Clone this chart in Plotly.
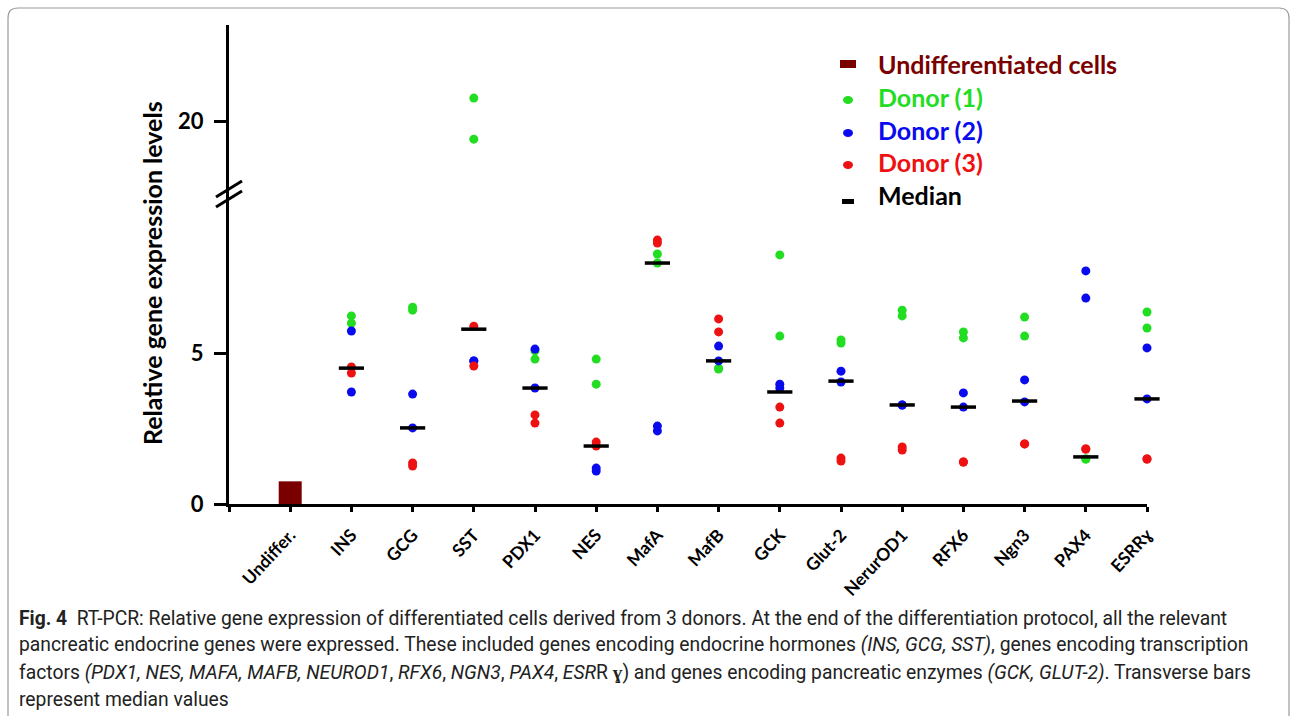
import plotly.graph_objects as go

# ---- data -------------------------------------------------------------
categories = ["Undiffer.", "INS", "GCG", "SST", "PDX1", "NES", "MafA", "MafB",
              "GCK", "Glut-2", "NerurOD1", "RFX6", "Ngn3", "PAX4", "ESRRɣ"]
genes = categories[1:]

undiff_value = 0.37

donor1 = [[6.23, 5.99], [6.52, 6.42], [20.76, 19.40], [5.07, 4.80], [4.80, 3.97],
          [8.28, 7.98], [4.50, 4.47], [8.25, 5.56], [5.43, 5.33], [6.42, 6.23],
          [5.70, 5.50], [6.19, 5.56], [1.49, 1.49], [6.36, 5.83]]
donor2 = [[5.73, 3.71], [3.64, 2.52], [4.74, 4.74], [5.13, 3.84], [1.19, 1.09],
          [2.58, 2.42], [5.23, 4.74], [3.97, 3.84], [4.40, 4.04], [3.28, 3.28],
          [3.68, 3.21], [4.11, 3.38], [7.72, 6.82], [5.17, 3.48]]
donor3 = [[4.54, 4.34], [1.36, 1.26], [5.89, 4.57], [2.95, 2.68], [2.05, 1.92],
          [8.74, 8.64], [6.13, 5.70], [3.21, 2.68], [1.52, 1.42], [1.89, 1.79],
          [1.39, 1.39], [1.99, 1.99], [1.82, 1.82], [1.49, 1.49]]
medians = [4.50, 2.52, 5.79, 3.84, 1.92, 7.98, 4.74, 3.71, 4.07, 3.28,
           3.21, 3.41, 1.56, 3.48]

# ---- styling ----------------------------------------------------------
GREEN = "#22dd22"
BLUE = "#0a0aee"
RED = "#ee1111"
DARKRED = "#7a0000"
FONT = "Lato"

W, H = 1292, 716
ML, MR, MT, MB = 229, 145, 25, 212
PW, PH = W - ML - MR, H - MT - MB
BREAK_PX = 193          # pixel row where the axis is broken
LOW_TOP = 10.30         # top of the lower axis segment
UP_RANGE = [17.616, 23.18]
BREAK_AT = 15           # values above this are drawn on the upper segment
split = (H - MB - BREAK_PX) / PH


def px_x(x):
    return (x - ML) / PW


def px_y(y):
    return (H - MB - y) / PH


fig = go.Figure()

# undifferentiated cells
fig.add_trace(go.Scatter(
    x=[0], y=[undiff_value], mode="markers", cliponaxis=False,
    marker=dict(symbol="square", size=23, color=DARKRED),
    showlegend=False))

# donor points, split between the two axis segments
for vals, col in ((donor1, GREEN), (donor2, BLUE), (donor3, RED)):
    lx, ly, ux, uy = [], [], [], []
    for i, pair in enumerate(vals):
        for v in pair:
            if v > BREAK_AT:
                ux.append(i + 1)
                uy.append(v)
            else:
                lx.append(i + 1)
                ly.append(v)
    mk = dict(symbol="circle", size=9, color=col)
    fig.add_trace(go.Scatter(x=lx, y=ly, mode="markers", marker=mk,
                             cliponaxis=False, showlegend=False))
    if ux:
        fig.add_trace(go.Scatter(x=ux, y=uy, mode="markers", marker=mk,
                                 cliponaxis=False, showlegend=False,
                                 yaxis="y2"))

# medians
fig.add_trace(go.Scatter(
    x=list(range(1, len(genes) + 1)), y=medians, mode="markers",
    cliponaxis=False,
    marker=dict(symbol="line-ew", size=18, line=dict(width=3.5, color="black")),
    showlegend=False))

axis_common = dict(showline=True, linewidth=3, linecolor="black",
                   showgrid=False, zeroline=False, ticks="outside",
                   tickcolor="black", tickwidth=3, ticklen=12,
                   tickfont=dict(family=FONT, size=22, color="black",
                                 weight="bold"),
                   ticklabelstandoff=6)

fig.update_layout(
    width=W, height=H,
    margin=dict(l=ML, r=MR, t=MT, b=MB),
    paper_bgcolor="white", plot_bgcolor="white",
    showlegend=False,
    xaxis=dict(range=[-1, len(categories) - 1], domain=[0, 1],
               tickvals=list(range(-1, len(categories))),
               ticktext=[""] + categories,
               tickangle=-47, showline=True, linewidth=3, linecolor="black",
               showgrid=False, zeroline=False, ticks="outside",
               tickcolor="black", tickwidth=3, ticklen=5,
               tickfont=dict(family=FONT, size=17.5, color="black",
                             weight="bold"),
               ticklabelstandoff=6,
               anchor="y"),
    yaxis=dict(domain=[0, split], range=[0, LOW_TOP], tickvals=[0, 5],
               anchor="x", **axis_common),
    yaxis2=dict(domain=[split, 1], range=UP_RANGE, tickvals=[20],
                anchor="x", **axis_common),
)

shapes = []
annotations = []

# axis break marks
for cy in (BREAK_PX - 4, BREAK_PX + 6):
    shapes.append(dict(type="line", xref="paper", yref="paper",
                       x0=px_x(ML - 13), y0=px_y(cy + 8),
                       x1=px_x(ML + 13), y1=px_y(cy - 8),
                       line=dict(color="black", width=3)))

# y-axis title
annotations.append(dict(text="<b>Relative gene expression levels</b>",
                        xref="paper", yref="paper", x=px_x(152), y=px_y(273),
                        xanchor="center", yanchor="middle",
                        textangle=-90, showarrow=False,
                        font=dict(family=FONT, size=25, color="black")))

# legend
legend_rows = [
    ("Undifferentiated cells", DARKRED, "rect", 64),
    ("Donor (1)", GREEN, "dot", 97),
    ("Donor (2)", BLUE, "dot", 130),
    ("Donor (3)", RED, "dot", 162),
    ("Median", "black", "dash", 195),
]
for label, col, kind, ty in legend_rows:
    if kind == "rect":
        shapes.append(dict(type="rect", xref="paper", yref="paper",
                           x0=px_x(840), x1=px_x(856), y0=px_y(60), y1=px_y(68),
                           fillcolor=col, line=dict(width=0)))
    elif kind == "dot":
        sy = ty + 3
        shapes.append(dict(type="circle", xref="paper", yref="paper",
                           x0=px_x(843), x1=px_x(853), y0=px_y(sy - 4),
                           y1=px_y(sy + 4), fillcolor=col, line=dict(width=0)))
    else:
        shapes.append(dict(type="rect", xref="paper", yref="paper",
                           x0=px_x(842), x1=px_x(854), y0=px_y(199),
                           y1=px_y(204), fillcolor=col, line=dict(width=0)))
    annotations.append(dict(text=f"<b>{label}</b>", xref="paper", yref="paper",
                            x=px_x(876), y=px_y(ty), xanchor="left",
                            yanchor="middle", showarrow=False,
                            font=dict(family=FONT, size=25, color=col)))

# caption
caption_lines = [
    "<b>Fig. 4</b>  RT-PCR: Relative gene expression of differentiated cells derived "
    "from 3 donors. At the end of the differentiation protocol, all the relevant",
    "pancreatic endocrine genes were expressed. These included genes encoding "
    "endocrine hormones <i>(INS, GCG, SST)</i>, genes encoding transcription",
    "factors <i>(PDX1, NES, MAFA, MAFB, NEUROD1</i>, <i>RFX6</i>, <i>NGN3</i>, "
    "<i>PAX4</i>, <i>ESR</i>R <b>ɣ</b>) and genes encoding pancreatic enzymes "
    "<i>(GCK, GLUT-2)</i>. Transverse bars",
    "represent median values",
]
for k, line in enumerate(caption_lines):
    annotations.append(dict(text=line, xref="paper", yref="paper",
                            x=px_x(17), y=px_y(618 + 27 * k),
                            xanchor="left", yanchor="middle", showarrow=False,
                            font=dict(family="Roboto", size=19.3, color="#222222")))

# rounded frame around the figure
fl, ft, fr, fb, r = px_x(8), px_y(8), px_x(1289), px_y(740), 10
rx, ry = r / PW, r / PH
shapes.append(dict(
    type="path", xref="paper", yref="paper",
    path=(f"M {fl} {fb} L {fl} {ft - ry} Q {fl} {ft} {fl + rx} {ft} "
          f"L {fr - rx} {ft} Q {fr} {ft} {fr} {ft - ry} L {fr} {fb}"),
    line=dict(color="#9a9a9a", width=1.2)))

fig.update_layout(shapes=shapes, annotations=annotations)

fig.write_html("out.html")
